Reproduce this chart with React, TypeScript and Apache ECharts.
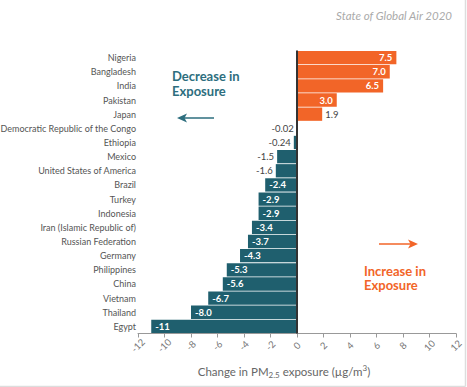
import React, { useEffect, useRef } from "react";
import * as echarts from "echarts";

const countries = [
  "Nigeria",
  "Bangladesh",
  "India",
  "Pakistan",
  "Japan",
  "Democratic Republic of the Congo",
  "Ethiopia",
  "Mexico",
  "United States of America",
  "Brazil",
  "Turkey",
  "Indonesia",
  "Iran (Islamic Republic of)",
  "Russian Federation",
  "Germany",
  "Philippines",
  "China",
  "Vietnam",
  "Thailand",
  "Egypt",
];
const changes = [7.5, 7.0, 6.5, 3.0, 1.9, -0.02, -0.24, -1.5, -1.6, -2.4, -2.9, -2.9, -3.4, -3.7, -4.3, -5.3, -5.6, -6.7, -8.0, -11];
const valueLabels = ["7.5", "7.0", "6.5", "3.0", "1.9", "-0.02", "-0.24", "-1.5", "-1.6", "-2.4", "-2.9", "-2.9", "-3.4", "-3.7", "-4.3", "-5.3", "-5.6", "-6.7", "-8.0", "-11"];
const xMin = -12;
const xMax = 12;
const xStep = 2;

const ORANGE = "#F26528";
const TEAL = "#1F5F6E";
const TEAL_TEXT = "#2D6E7E";
const FONT = "Lato, 'Open Sans', sans-serif";

export default function App() {
  const ref = useRef<HTMLDivElement>(null);

  useEffect(() => {
    if (!ref.current) return;
    const chart = echarts.init(ref.current, undefined, { renderer: "svg" });

    const data = changes.map((v, i) => {
      const big = Math.abs(v) >= 2;
      const pos = v >= 0 ? (big ? "insideRight" : "right") : big ? "insideLeft" : "left";
      return {
        value: v,
        itemStyle: { color: v >= 0 ? ORANGE : TEAL },
        label: {
          show: true,
          position: pos,
          distance: big ? 4 : 3,
          formatter: valueLabels[i],
          color: big ? "#ffffff" : "#444444",
          fontWeight: big ? "bold" : "normal",
          fontSize: 9.5,
          fontFamily: FONT,
        },
      };
    });

    const textLine = (x: number, y: number, text: string, fill: string) => ({
      type: "text",
      x,
      y,
      style: {
        text,
        fill,
        fontWeight: "bold",
        fontSize: 13,
        fontFamily: FONT,
        align: "left",
        verticalAlign: "middle",
      },
    });

    chart.setOption({
      animation: false,
      backgroundColor: "#ffffff",
      grid: { left: 138, right: 11, top: 50.5, height: 283, containLabel: false, outerBoundsMode: "none" },
      xAxis: {
        type: "value",
        min: xMin,
        max: xMax,
        interval: xStep,
        splitLine: { show: false },
        axisLine: { show: true, onZero: false, lineStyle: { color: "#999999", width: 1 } },
        axisTick: { show: true, length: 4, lineStyle: { color: "#999999" } },
        axisLabel: {
          rotate: 45,
          align: "center",
          verticalAlign: "middle",
          margin: 12,
          color: "#777777",
          fontSize: 9.5,
          fontFamily: FONT,
        },
      },
      yAxis: {
        type: "category",
        data: countries,
        inverse: true,
        axisLine: { show: false },
        axisTick: { show: false },
        axisLabel: { margin: 2, color: "#555555", fontSize: 9, fontFamily: FONT },
      },
      series: [
        {
          type: "bar",
          data,
          barCategoryGap: "6%",
          markLine: {
            silent: true,
            symbol: ["none", "none"],
            label: { show: false },
            lineStyle: { color: "#333333", width: 2, type: "solid" },
            data: [{ xAxis: 0 }],
          },
        },
      ],
      graphic: [
        {
          type: "text",
          x: 452,
          y: 15,
          style: {
            text: "State of Global Air 2020",
            fill: "#aaaaaa",
            fontStyle: "italic",
            fontSize: 11.5,
            fontFamily: FONT,
            align: "right",
            verticalAlign: "middle",
          },
        },
        textLine(172, 76, "Decrease in", TEAL_TEXT),
        textLine(172, 90.5, "Exposure", TEAL_TEXT),
        {
          type: "line",
          shape: { x1: 183, y1: 118, x2: 214, y2: 118 },
          style: { stroke: TEAL_TEXT, lineWidth: 1.5 },
        },
        {
          type: "polygon",
          shape: { points: [[177, 118], [187, 113.5], [184.5, 118], [187, 122.5]] },
          style: { fill: TEAL_TEXT },
        },
        textLine(364, 270.5, "Increase in", ORANGE),
        textLine(364, 285, "Exposure", ORANGE),
        {
          type: "line",
          shape: { x1: 379, y1: 244, x2: 412, y2: 244 },
          style: { stroke: ORANGE, lineWidth: 1.5 },
        },
        {
          type: "polygon",
          shape: { points: [[418, 244], [408, 239.5], [410.5, 244], [408, 248.5]] },
          style: { fill: ORANGE },
        },
        {
          type: "text",
          x: 284,
          y: 371,
          style: {
            text: "{a|Change in PM}{sub|2.5}{a| exposure (µg/m}{sup|3}{a|)}",
            align: "center",
            verticalAlign: "middle",
            rich: {
              a: { fontSize: 11.5, lineHeight: 15, fill: "#666666", fontFamily: FONT },
              sub: { fontSize: 8, lineHeight: 8, verticalAlign: "bottom", fill: "#666666", fontFamily: FONT },
              sup: { fontSize: 8, lineHeight: 8, verticalAlign: "top", fill: "#666666", fontFamily: FONT },
            },
          },
        },
        {
          type: "line",
          shape: { x1: 465.5, y1: 0, x2: 465.5, y2: 386.5 },
          style: { stroke: "#dddddd", lineWidth: 1.5 },
        },
        {
          type: "line",
          shape: { x1: 0, y1: 386.5, x2: 465.5, y2: 386.5 },
          style: { stroke: "#dddddd", lineWidth: 1.5 },
        },
      ],
    });

    return () => chart.dispose();
  }, []);

  return (
    <div
      ref={ref}
      style={{ position: "absolute", left: 0, top: 0, width: 467, height: 387 }}
    />
  );
}
